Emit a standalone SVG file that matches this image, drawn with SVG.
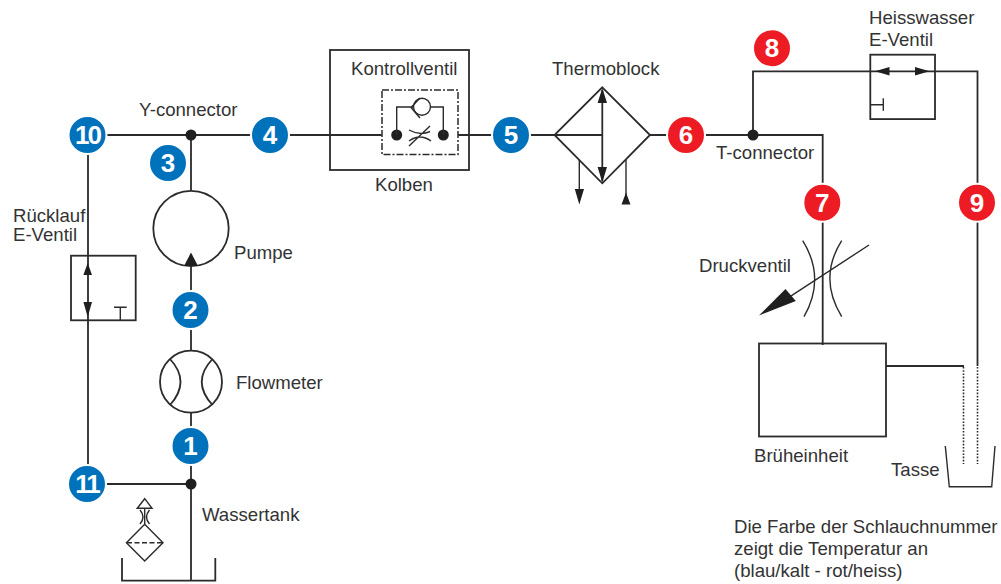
<svg xmlns="http://www.w3.org/2000/svg" width="1001" height="584" viewBox="0 0 1001 584">
<style>
.l{fill:none;stroke:#2b2b2b;stroke-width:1.8}
.t{fill:none;stroke:#2b2b2b;stroke-width:1.4}
.h{fill:#1f1f1f;stroke:none}
text{font-family:"Liberation Sans",Arial,sans-serif;font-size:18.6px;fill:#333}
.b circle{stroke:#fff;stroke-width:2}
.b text{font-size:26px;font-weight:700;fill:#fff;text-anchor:middle}
.blue circle{fill:#0072bc}
.red circle{fill:#ed1c24}
</style>
<rect width="1001" height="584" fill="#fff"/>
<g id="connectors">
<path class="l" d="M88 135H381.7M458 135H602M650 135H822.7V345M753 135V71.3H977.5V366M88 135V484H191M191 135V191M191 266V350M191 413V580M886 366H964"/>
<path class="t" d="M579.3 160V192M626 160V195"/>
<path d="M963.5 367V464M977.5 367V464" fill="none" stroke="#2b2b2b" stroke-width="1.6" stroke-dasharray="1.6 1.6"/>
</g>
<g id="y-connector"><circle class="h" cx="191" cy="135" r="5.5"/><text x="139" y="116">Y-connector</text></g>
<g id="t-connector"><circle class="h" cx="753" cy="135" r="5.5"/><text x="716" y="159">T-connector</text></g>
<g id="tank-junction"><circle class="h" cx="191" cy="484" r="5.5"/></g>
<g id="kolben">
<rect class="l" x="330" y="50" width="139" height="120"/>
<rect x="382" y="90" width="76" height="64.5" fill="#fff" stroke="#2b2b2b" stroke-width="1.5" stroke-dasharray="7 2 2 2"/>
<circle class="h" cx="396.7" cy="135" r="5.5"/><circle class="h" cx="443.3" cy="135" r="5.5"/>
<path class="t" d="M396.7 135V107H413M431 107H443.3V135M420 98L411 107.5L420 118"/>
<circle class="t" cx="422" cy="106.7" r="8.5"/>
<path class="t" d="M409 130Q420 136 430 131.5M409 141Q420 133 431 141M409 146L430 126"/>
<text x="351" y="75">Kontrollventil</text><text x="375" y="191">Kolben</text>
</g>
<g id="thermoblock">
<path class="l" d="M602.3 87.3L650 135L602.3 183.3L554.5 135ZM602.3 90V181"/>
<path class="h" d="M602.3 88L607 103H597.6ZM602.3 182.5L607 167H597.6ZM579.3 204.5L574.8 189H584ZM626 192.5L630.5 204.5H621.5Z"/>
<text x="552" y="75">Thermoblock</text>
</g>
<g id="pumpe">
<circle class="l" cx="191" cy="228.5" r="37.7" fill="#fff"/>
<path class="h" d="M191 252.5L198 266H184Z"/>
<text x="234" y="259">Pumpe</text>
</g>
<g id="flowmeter">
<circle class="l" cx="191" cy="381.7" r="31"/>
<path class="l" d="M170 359Q191 381.7 170 405M212.5 359Q191 381.7 212.5 405"/>
<text x="236" y="389">Flowmeter</text>
</g>
<g id="ruecklauf-ventil">
<rect class="l" x="71" y="255.7" width="64.7" height="64.6"/>
<path class="h" d="M87.7 263L92 275H83.4ZM87.7 317L92 302H83.4Z"/>
<path class="t" d="M114 307.3H126.7M120.3 307.3V320"/>
<text x="13" y="222">Rücklauf</text><text x="13" y="241">E-Ventil</text>
</g>
<g id="heisswasser-ventil">
<rect class="l" x="870.3" y="54.7" width="64.7" height="64.4"/>
<path class="h" d="M875 71.3L889.5 67V75.6ZM929.5 71.3L915 67V75.6Z"/>
<path class="t" d="M870.3 104.7H883.3M883.3 98.3V110.8"/>
<text x="869" y="24">Heisswasser</text><text x="869" y="46">E-Ventil</text>
</g>
<g id="druckventil">
<path class="t" d="M802.7 240.7Q826 278 804 316.7M841.7 240.7Q818 278 841.7 316.7M869 245L790 296.7"/>
<path class="h" d="M759 315.5L785.5 289L795.8 301Z"/>
<text x="699" y="272">Druckventil</text>
</g>
<g id="bruehheinheit">
<rect class="l" x="759" y="343.5" width="127" height="93" fill="#fff"/>
<text x="754" y="462">Brüheinheit</text>
</g>
<g id="tasse">
<path class="t" d="M945.3 446L949.3 486.7H991.7L995 446"/>
<text x="891" y="476">Tasse</text>
</g>
<g id="wassertank">
<path class="l" d="M122 558V580.7H215.3V558"/>
<text x="202" y="521">Wassertank</text>
</g>
<g id="filter">
<path class="t" d="M144.7 524.3L163 542.7L144.7 561L126.4 542.7Z"/>
<path d="M127 542.7H162" stroke="#2b2b2b" stroke-width="1.4" fill="none" stroke-dasharray="5 2.5"/>
<path class="t" d="M144.7 524V508.3M137.3 508.3L144.7 498.7L152 508.3ZM140 510Q146 517 140 524M149.5 510Q143.5 517 149.5 524"/>
</g>
<g id="hinweis"><text x="734" y="533">Die Farbe der Schlauchnummer</text><text x="734" y="555">zeigt die Temperatur an</text><text x="734" y="577">(blau/kalt - rot/heiss)</text></g>
<g id="n1" class="b blue"><circle cx="190.5" cy="446" r="19"/><text x="190.5" y="455">1</text></g>
<g id="n2" class="b blue"><circle cx="190.5" cy="310" r="19"/><text x="190.5" y="319">2</text></g>
<g id="n3" class="b blue"><circle cx="168" cy="163" r="19"/><text x="168" y="172">3</text></g>
<g id="n4" class="b blue"><circle cx="270" cy="135" r="19"/><text x="270" y="144">4</text></g>
<g id="n5" class="b blue"><circle cx="511" cy="135" r="19"/><text x="511" y="144">5</text></g>
<g id="n6" class="b red"><circle cx="686" cy="135" r="19"/><text x="686" y="144">6</text></g>
<g id="n7" class="b red"><circle cx="822.3" cy="202.7" r="19"/><text x="822.3" y="211.7">7</text></g>
<g id="n8" class="b red"><circle cx="772" cy="48.3" r="19"/><text x="772" y="57.3">8</text></g>
<g id="n9" class="b red"><circle cx="977" cy="202.7" r="19"/><text x="977" y="211.7">9</text></g>
<g id="n10" class="b blue"><circle cx="87.5" cy="135" r="19"/><text x="87.5" y="144" letter-spacing="-2">10</text></g>
<g id="n11" class="b blue"><circle cx="87" cy="484" r="19"/><text x="87" y="493" letter-spacing="-2">11</text></g>
</svg>
